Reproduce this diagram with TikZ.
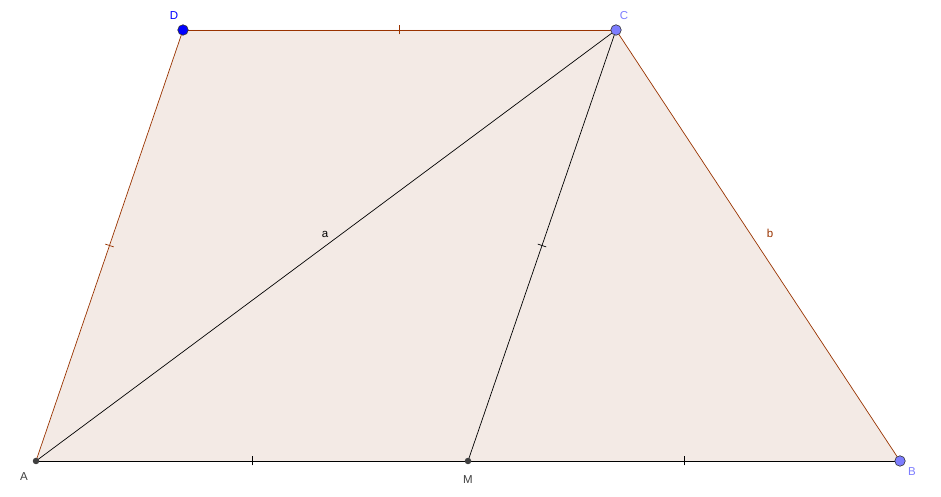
\documentclass[tikz,border=0pt]{standalone}
\usepackage{fontspec}
\setmainfont{Liberation Sans}
\usetikzlibrary{decorations.markings}
\definecolor{polyfill}{RGB}{243,234,229}
\definecolor{polyedge}{RGB}{153,51,0}
\definecolor{freept}{RGB}{125,125,255}
\definecolor{depblue}{RGB}{0,0,255}
\definecolor{fixpt}{RGB}{64,64,64}
\tikzset{
    x=1pt, y=1pt,
    side/.style = {draw=polyedge, line width=0.7pt},
    seg/.style = {draw=black, line width=0.7pt},
    tickmark/.style = {postaction={decorate, decoration={markings,
        mark=at position 0.5 with {\draw[line width=0.7pt] (0,-4.5) -- (0,4.5);}}}},
    big-pt/.style = {circle, draw=black!80, line width=0.6pt, inner sep=0pt, minimum size=10.5pt},
    small-pt/.style = {circle, fill=fixpt, inner sep=0pt, minimum size=6.5pt},
    lbl/.style = {font=\fontsize{11.5}{13}\selectfont, inner sep=0pt},
}

\begin{document}
\begin{tikzpicture}
\useasboundingbox (0,0) rectangle (941,497);
\coordinate (A) at (36,36);
\coordinate (M) at (468,36);
\coordinate (B) at (900,36);
\coordinate (C) at (616,467);
\coordinate (D) at (183,467);

% trapezoid
\fill[polyfill] (A) -- (B) -- (C) -- (D) -- cycle;
\draw[side] (C) -- (B);
\draw[side, tickmark] (A) -- (D);
\draw[side, tickmark] (D) -- (C);

% segments
\draw[seg, tickmark] (A) -- (M);
\draw[seg, tickmark] (M) -- (B);
\draw[seg, tickmark] (M) -- (C);
\draw[seg] (A) -- (C);

% points
\node[big-pt, fill=depblue] (pD) at (D) {};
\node[big-pt, fill=freept] (pC) at (C) {};
\node[big-pt, fill=freept] (pB) at (B) {};
\node[small-pt] (pA) at (A) {};
\node[small-pt] (pM) at (M) {};

% labels
\node[lbl, text=depblue] (lD) at (174,481) {D};
\node[lbl, text=freept] (lC) at (624,481) {C};
\node[lbl, text=fixpt] (lA) at (24,20) {A};
\node[lbl, text=fixpt] (lM) at (468,17) {M};
\node[lbl, text=freept] (lB) at (912,25) {B};
\node[lbl] (la) at (325,263) {a};
\node[lbl, text=polyedge] (lb) at (770,264) {b};
\end{tikzpicture}
\end{document}
